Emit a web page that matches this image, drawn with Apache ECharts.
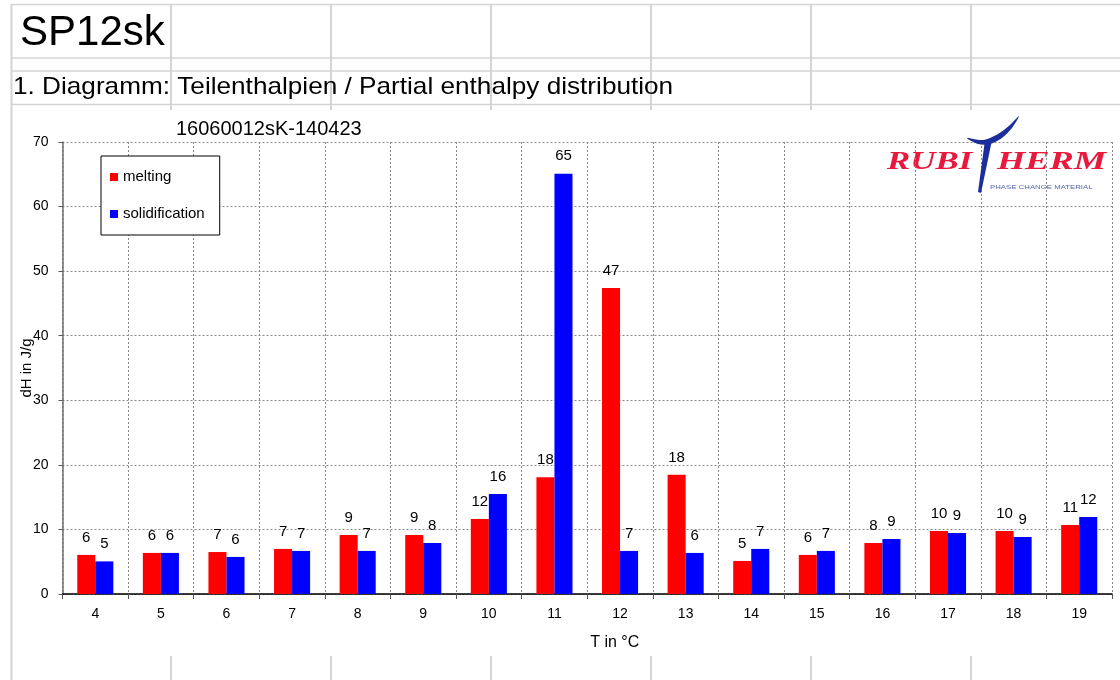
<!DOCTYPE html>
<html>
<head>
<meta charset="utf-8">
<script src="https://cdn.jsdelivr.net/npm/echarts@6/dist/echarts.min.js"></script>
<style>
  html, body { margin: 0; padding: 0; background: #fff; }
  #chart { width: 1120px; height: 680px; }
</style>
</head>
<body>
<div id="chart"></div>
<script>
// ---- data ----
const categories = ['4','5','6','7','8','9','10','11','12','13','14','15','16','17','18','19'];
const melting = [6.05, 6.36, 6.5, 6.98, 9.15, 9.15, 11.63, 18.08, 47.4, 18.45, 5.12, 6.05, 7.91, 9.77, 9.77, 10.7];
const solidification = [5.05, 6.36, 5.74, 6.67, 6.67, 7.91, 15.5, 65.1, 6.67, 6.36, 6.98, 6.67, 8.53, 9.46, 8.84, 11.94];
const seriesNames = ['melting', 'solidification'];
const sheetTitle = 'SP12sk';
const sheetSubtitle = '1. Diagramm: Teilenthalpien / Partial enthalpy distribution';
const chartTitle = '16060012sK-140423';
const xName = 'T in °C';
const yName = 'dH in J/g';

const FONT = '"Liberation Sans", Arial, sans-serif';
const sheetLine = '#d4d4d4';

// spreadsheet cell lines (decoration)
const sheetGraphics = [];
function hLine(y, x1, x2) {
  sheetGraphics.push({ type: 'line', silent: true, z: -10,
    shape: { x1: x1, y1: y, x2: x2, y2: y },
    style: { stroke: sheetLine, lineWidth: 1.5 } });
}
function vLine(x, y1, y2) {
  sheetGraphics.push({ type: 'line', silent: true, z: -10,
    shape: { x1: x, y1: y1, x2: x, y2: y2 },
    style: { stroke: sheetLine, lineWidth: 2 } });
}
[4.5, 58, 71, 104.5].forEach(y => hLine(y, 11, 1120));
vLine(11.5, 4, 680);
[171, 331, 491, 651, 811, 971].forEach(x => { vLine(x, 4, 110); vLine(x, 656, 680); });

const logoRed = '#e8193c';
const logoBlue = '#1c2d9c';
const logo = [
  { type: 'group', x: 887, y: 162, scaleX: 1.34, scaleY: 1, silent: true, z: 5,
    children: [{ type: 'text', style: { text: 'RUBI', x: 0, y: 0, fill: logoRed,
      font: 'italic bold 26px "Liberation Serif", serif', verticalAlign: 'middle', align: 'left' } }] },
  { type: 'group', x: 997, y: 162, scaleX: 1.40, scaleY: 1, silent: true, z: 5,
    children: [{ type: 'text', style: { text: 'HERM', x: 0, y: 0, fill: logoRed,
      font: 'italic bold 26px "Liberation Serif", serif', verticalAlign: 'middle', align: 'left' } }] },
  { type: 'group', x: 990, y: 187, scaleX: 1.3, scaleY: 1, silent: true, z: 5,
    children: [{ type: 'text', style: { text: 'PHASE CHANGE MATERIAL', x: 0, y: 0, fill: '#5566aa',
      font: '6px "Liberation Sans", sans-serif', verticalAlign: 'middle', align: 'left' } }] },
  { type: 'polygon', silent: true, z: 6,
    shape: { points: [[967, 138], [983, 140], [998, 134], [1010, 125], [1019, 116], [1012, 128], [1002, 138], [990, 144], [978, 144]], smooth: 0.3 },
    style: { fill: logoBlue } },
  { type: 'polygon', silent: true, z: 6,
    shape: { points: [[985, 140], [992, 140], [981, 193], [978, 192]] },
    style: { fill: logoBlue } },
  { type: 'text', silent: true, z: 5, x: 20, y: 33.5,
    style: { text: sheetTitle, font: '42px ' + FONT, fill: '#000', verticalAlign: 'middle', align: 'left' } },
  { type: 'group', x: 13, y: 87.5, scaleX: 1.09, scaleY: 1, silent: true, z: 5,
    children: [{ type: 'text', style: { text: sheetSubtitle, x: 0, y: 0, font: '24px ' + FONT, fill: '#000',
      verticalAlign: 'middle', align: 'left' } }] }
];

const chart = echarts.init(document.getElementById('chart'), null, { renderer: 'canvas' });
const labelOpt = {
  show: true, position: 'top', distance: 10, color: '#000', fontSize: 15, fontFamily: FONT,
  formatter: p => String(Math.round(p.value))
};
chart.setOption({
  backgroundColor: '#fff',
  animation: false,
  textStyle: { fontFamily: FONT },
  title: {
    text: chartTitle, left: 170, top: 114, padding: [4, 6, 2, 6],
    backgroundColor: '#fff',
    textStyle: { fontSize: 20, fontWeight: 'normal', color: '#000', fontFamily: FONT, lineHeight: 22 }
  },
  legend: {
    orient: 'vertical', left: 101, top: 156,
    padding: [13, 15, 13, 9], itemGap: 21, itemWidth: 8, itemHeight: 8,
    borderColor: '#000', borderWidth: 1, backgroundColor: '#fff',
    icon: 'rect',
    textStyle: { fontSize: 15, color: '#000', fontFamily: FONT, lineHeight: 16 },
    data: seriesNames
  },
  grid: { left: 62.5, right: 8, top: 142, bottom: 86, containLabel: false },
  xAxis: {
    type: 'category', data: categories, boundaryGap: true,
    name: xName, nameLocation: 'middle', nameGap: 41, nameMoveOverlap: false,
    nameTextStyle: { fontSize: 16, color: '#000', fontFamily: FONT, padding: [0, 0, 0, 55] },
    axisLine: { show: true, lineStyle: { color: '#000', width: 1.5 } },
    axisTick: { show: true, length: 5, alignWithLabel: false, lineStyle: { color: '#555' } },
    axisLabel: { fontSize: 14, color: '#000', margin: 13, fontFamily: FONT, interval: 0 },
    splitLine: { show: true, interval: 0, lineStyle: { color: '#888', type: [2, 2], width: 1 } }
  },
  yAxis: {
    type: 'value', min: 0, max: 70, interval: 10,
    name: yName, nameLocation: 'middle', nameGap: 28, nameRotate: 90, nameMoveOverlap: false,
    nameTextStyle: { fontSize: 15, color: '#000', fontFamily: FONT },
    axisLine: { show: true, lineStyle: { color: '#6e6e6e', width: 1.5 } },
    axisTick: { show: true, length: 4, lineStyle: { color: '#555' } },
    axisLabel: { fontSize: 14, color: '#000', margin: 14, fontFamily: FONT },
    splitLine: { show: true, lineStyle: { color: '#888', type: [2, 2], width: 1 } }
  },
  series: [
    { name: seriesNames[0], type: 'bar', data: melting, barGap: '0%', barCategoryGap: '45%',
      itemStyle: { color: '#ff0000' }, label: labelOpt },
    { name: seriesNames[1], type: 'bar', data: solidification, barGap: '0%', barCategoryGap: '45%',
      itemStyle: { color: '#0000ff' }, label: labelOpt }
  ],
  graphic: sheetGraphics.concat(logo)
});
</script>
</body>
</html>
